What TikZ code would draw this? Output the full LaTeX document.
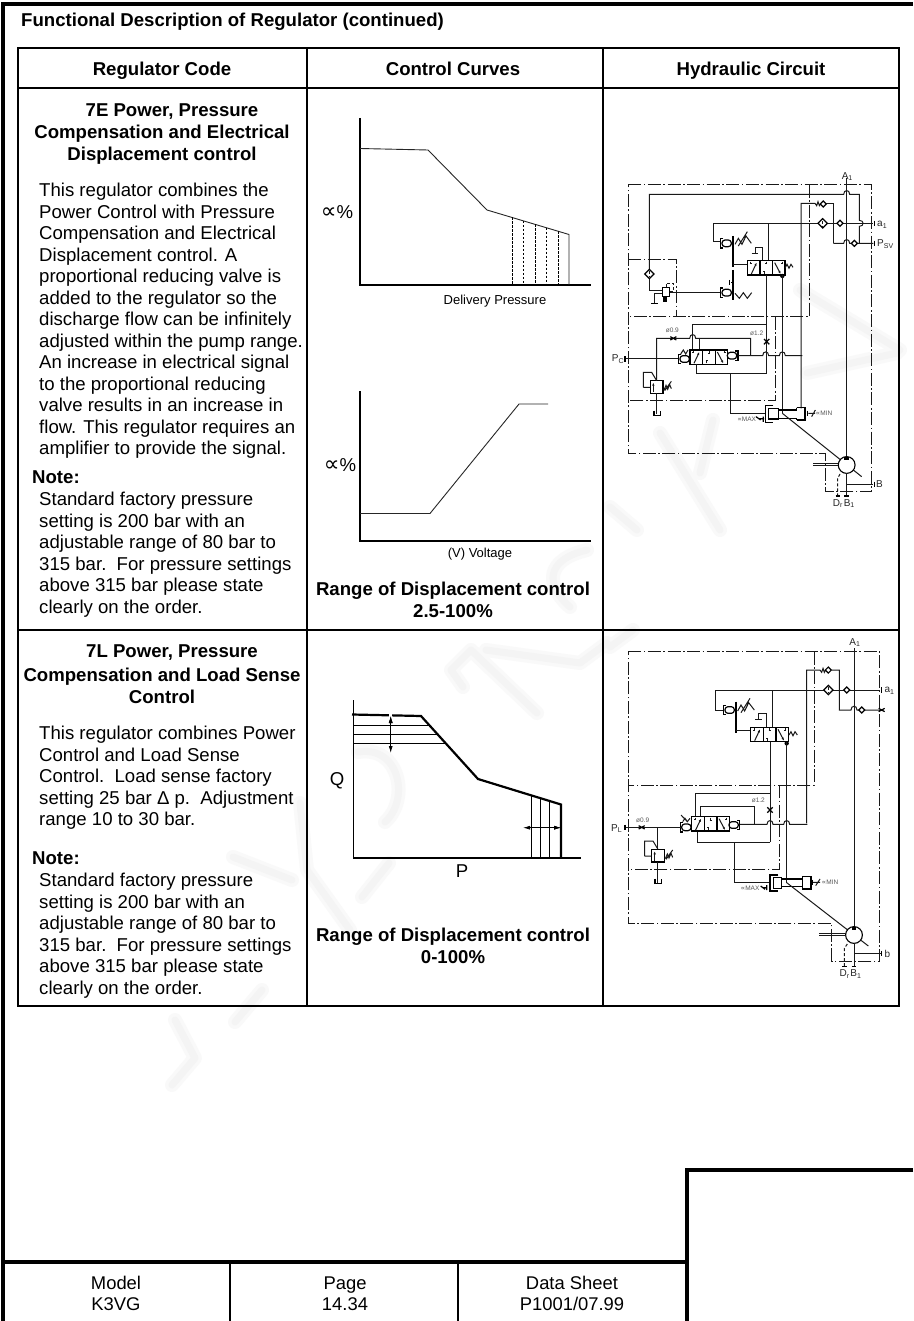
\documentclass[tikz,border=0pt]{standalone}
\usepackage{fontspec}
\setmainfont{Liberation Sans}
\newfontfamily\symf{DejaVu Sans}
\usetikzlibrary{arrows.meta}
\newcommand{\fs}[1]{\fontsize{#1}{#1}\selectfont}
\newcommand{\hh}[2]{-- ({#1-9},#2) .. controls ({#1-9},{#2-15}) and ({#1+9},{#2-15}) .. ({#1+9},#2)}
\newcommand{\hv}[2]{-- (#1,{#2-9}) .. controls ({#1+15},{#2-9}) and ({#1+15},{#2+9}) .. (#1,{#2+9})}
\newcommand{\pct}{{\symf\fs{22}∝}\%}
\tikzset{
  frameline/.style={line width=3.6pt,black},
  tableline/.style={line width=1.8pt,black},
  axis/.style={line width=1.2pt,black},
  curve/.style={line width=.9pt,black!85},
  bold curve/.style={line width=2.2pt,black},
  hyd/.style={line width=1pt,black!90},
  hydt/.style={line width=1.2pt,black},
  ddot/.style={line width=1pt,black!90,dash pattern=on 13pt off 2.5pt on 1.6pt off 2.5pt},
  wm/.style={line width=14pt,black!2.5,line cap=round,line join=round},
  wmin/.style={line width=7pt,black!4.5,line cap=round,line join=round},
  txt/.style={inner sep=0pt,font=\fs{18.6}},
  para/.style={inner sep=0pt,anchor=north west,align=left,font=\fontsize{18.6}{21.5}\selectfont},
  head/.style={inner sep=0pt,align=center,font=\fontsize{18.6}{21.5}\selectfont\bfseries},
  headb/.style={head,anchor=base},
  note/.style={inner sep=0pt,anchor=base west,font=\fs{18.6}\bfseries},
  foot/.style={inner sep=0pt,align=center,font=\fontsize{18.4}{21.2}\selectfont},
  small/.style={inner sep=0pt,font=\fs{13}},
  lab/.style={inner sep=0pt,font=\fs{10},black!85},
  tiny lab/.style={inner sep=0pt,font=\fs{6.5},black!65},
  chkv/.pic={\draw[hydt,fill=white] (-9,0)--(0,-9)--(9,0)--(0,9)--cycle;},
  shuttle/.pic={\draw[hydt,fill=white] (-14,0)--(0,-14)--(14,0)--(0,14)--cycle; \draw[hyd,densely dashed] (0,-8)--(0,8);},
  orif/.pic={\draw[hydt] (-8,-8)--(8,8) (-8,8)--(8,-8);},
  orifh/.pic={\draw[hydt] (-9,-5)--(9,5) (-9,5)--(9,-5);},
  tick/.pic={\draw[hydt] (0,-8)--(0,8);},
  tanksym/.pic={\draw[hydt] (-10,-14)--(-10,0)--(10,0)--(10,-14);},
  ground/.pic={\draw[hydt] (-10,0)--(10,0);},
  act/.pic={\draw[hydt] (4,-14)--(-4,-14)--(-4,14)--(4,14); \draw[hydt,rounded corners=3pt] (0,-10)--(28,-10)--(28,10)--(0,10)--cycle;},
  actr/.pic={\draw[hydt] (-4,-14)--(4,-14)--(4,14)--(-4,14); \draw[hydt,rounded corners=3pt] (0,-10)--(-28,-10)--(-28,10)--(0,10)--cycle;},
  valve/.pic={
    \draw[line width=1.5pt,black,fill=white] (0,0) rectangle (113,43);
    \draw[line width=1.2pt] (38,0)--(38,43) (76,0)--(76,43);
    \draw[hyd,-{Latex[length=3pt,width=2.5pt]}] (12,40)--(28,6);
    \draw[hyd] (10,3)--(10,9) (7,9)--(13,9);
    \draw[hyd] (57,3)--(57,10) (54,10)--(60,10) (50,40)--(50,33) (47,33)--(53,33);
    \draw[hyd,-{Latex[length=3pt,width=2.5pt]}] (82,6)--(100,40);
    \draw[hyd] (104,3)--(104,9) (101,9)--(107,9);},
  pump/.pic={\draw[line width=1.1pt,fill=white] (0,0) circle[radius=8.4pt];
    \fill (-7,-14)--(7,-14)--(7,-24)--(-7,-24)--cycle;},
  relief/.pic={\draw[line width=1.5pt,fill=white] (-19,0) rectangle (19,38);
    \draw[hyd,-{Latex[length=3pt,width=2.5pt]}] (-10,34)--(-10,6);
    \draw[hyd] (-40,20)--(-40,-25)--(-15,-25)--(0,0) (-40,20)--(-19,20);
    \draw[hyd] (22,28)--(28,14)--(33,26)--(39,12)--(44,24) (24,30)--(44,2);}
}
\begin{document}
\begin{tikzpicture}[x=1pt,y=-1pt]
\useasboundingbox (0,0) rectangle (913,1321);
\fill[white] (0,0) rectangle (913,1321);
% watermark
\foreach \s in {wm,wmin}{
 \draw[\s] (175,1020)--(195,1058)--(172,1085);
 \draw[\s] (262,990)--(235,1022);
 \draw[\s] (358,752) .. controls (400,745) and (410,800) .. (385,822);
 \draw[\s] (463,687)--(451,670)--(471,650)--(537,713);
 \draw[\s] (607,643)--(580,663)--(486,650);
 \draw[\s] (300,803)--(307,870)--(350,930);
 \draw[\s] (233,857)--(292,880);
 \draw[\s] (389,863)--(362,897);
 \draw[\s] (897,353)--(807,373);
 \draw[\s] (713,420)--(700,473);
 \draw[\s] (660,433)--(720,530);
 \draw[\s] (610,507)--(637,530);
 \draw[\s] (800,290)--(900,350);
 \draw[\s] (587,550) .. controls (545,560) and (545,585) .. (570,607);
 \draw[\s] (633,630)--(610,647);
}
% frame
\draw[frameline] (3,1321)--(3,4)--(913,4);
\draw[frameline] (1,1262)--(687,1262);
\draw[frameline] (913,1170)--(687,1170)--(687,1321);
\draw[line width=2.6pt] (230,1262)--(230,1321) (458,1262)--(458,1321);
\node[note] (title) at (21,26.5) {Functional Description of Regulator (continued)};
% table
\draw[tableline] (18,48) rectangle (899,1006);
\draw[tableline] (307,48)--(307,1006) (603,48)--(603,1006);
\draw[tableline] (18,88)--(899,88) (18,630)--(899,630);
\node[headb] (h1) at (162,75.5) {Regulator Code};
\node[headb] (h2) at (453,75.5) {Control Curves};
\node[headb] (h3) at (751,75.5) {Hydraulic Circuit};
% column 1 row 1
\node[headb] (t1a) at (172,116.5) {7E Power, Pressure};
\node[head] (t1b) at (162,144.5) {Compensation and Electrical\\Displacement control};
\node[para] (p1) at (39,183) {This regulator combines the\\Power Control with Pressure\\Compensation and Electrical\\Displacement control.  A\\proportional reducing valve is\\added to the regulator so the\\discharge flow can be infinitely\\adjusted within the pump range.\\An increase in electrical signal\\to the proportional reducing\\valve results in an increase in\\flow. This regulator requires an\\amplifier to provide the signal.};
\node[note] (n1) at (32,483.5) {Note:};
\node[para] (q1) at (39,492) {Standard factory pressure\\setting is 200 bar with an\\adjustable range of 80 bar to\\315 bar.\ \ For pressure settings\\above 315 bar please state\\clearly on the order.};
% column 1 row 2
\node[headb] (t2a) at (172,657.5) {7L Power, Pressure};
\node[head] (t2b) at (162,686) {Compensation and Load Sense\\Control};
\node[para] (p2) at (39,726) {This regulator combines Power\\Control and Load Sense\\Control.\ \ Load sense factory\\setting 25 bar Δ p.\ \ Adjustment\\range 10 to 30 bar.};
\node[note] (n2) at (32,864.5) {Note:};
\node[para] (q2) at (39,873) {Standard factory pressure\\setting is 200 bar with an\\adjustable range of 80 bar to\\315 bar.\ \ For pressure settings\\above 315 bar please state\\clearly on the order.};
% chart 1
\draw[axis] (360,118)--(360,285)--(591,285);
\draw[curve] (360,148.5)--(428,150)--(487,210)--(569,234.5)--(569,285);
\foreach \px/\py in {512/217.5,523/220.8,535/224.3,546/227.6,558/231.2}
  \draw[line width=.8pt,black,dash pattern=on 2.5pt off 1.5pt] (\px,\py)--(\px,285);
\node[txt] (l1) at (337,212) {\pct};
\node[small] (c1) at (495,301) {Delivery Pressure};
% chart 2
\draw[axis] (360,391)--(360,541)--(591,541);
\draw[curve] (360,513.5)--(430,513.5)--(519,404)--(548,404);
\node[txt] (l2) at (340,465) {\pct};
\node[small] (c2) at (480,554) {(V) Voltage};
\node[head] (r1) at (453,600) {Range of Displacement control\\2.5-100\%};
% chart 3
\draw[axis] (353.7,700)--(353.7,858)--(581,858);
\draw[bold curve] (352,714.5)--(421,716)--(478,779)--(561,804.5)--(561,858);
\draw[line width=1pt] (354,725.7)--(430,725.7) (354,734.7)--(438,734.7) (354,743.7)--(447,743.7);
\draw[line width=1pt] (531,795)--(531,858) (540,798)--(540,858) (549,801)--(549,858);
\draw[white,line width=2.5pt] (390.7,713)--(390.7,718);
\draw[line width=.8pt,{Latex[length=7pt,width=4pt]}-{Latex[length=7pt,width=4pt]}] (390.7,716)--(390.7,753);
\draw[line width=.8pt,-{Latex[length=7pt,width=4pt]}] (390.7,735)--(390.7,716);
\draw[line width=.8pt,{Latex[length=7pt,width=4pt]}-{Latex[length=7pt,width=4pt]}] (523,827.7)--(561,827.7);
\draw[line width=.8pt,-{Latex[length=7pt,width=4pt]}] (545,827.7)--(561,827.7);
\node[txt] (q) at (337,781) {Q};
\node[txt] (pp) at (462,871) {P};
\node[head] (r2) at (453,946) {Range of Displacement control\\0-100\%};
% circuit 1
\begin{scope}[shift={(610,150)},x=.33333pt,y=-.33333pt]
 \draw[ddot] (55,105)--(785,105)--(785,1025)--(645,1025)--(645,912)--(55,912)--cycle;
 \draw[ddot] (597,105)--(597,500)--(55,500);
 \draw[ddot] (55,328)--(198,328)--(198,500);
 \draw[ddot] (495,500)--(495,752)--(55,752);
 \draw[hyd] (710,85)--(710,930);
 \draw[hyd] (118,360)--(118,133) \hh{710}{133} --(748,133) \hv{748}{220} --(748,280);
 \draw[hyd] (670,280) \hh{710}{280} --(790,280);
 \draw[hyd] (310,275)--(310,220)--(790,220);
 \draw[hyd] (118,372)--(118,422)--(160,422);
 \draw[hyd] (160,432)--(133,432)--(133,460);
 \pic at (133,460) {ground};
 \draw[hyd] (178,428)--(332,428);
 \pic at (118,372) {shuttle};
 \draw[hydt,fill=white] (158,412) rectangle (178,440);
 \fill (160,440) rectangle (172,455);
 \draw[hyd,densely dashed] (168,412)--(168,400)--(190,400)--(190,425)--(178,425);
 \draw[hyd] (310,275)--(332,275);
 \pic at (336,280) {act};
 \pic at (336,428) {act};
 \draw[line width=2pt] (370,258)--(370,350) (370,360)--(370,450);
 \draw[hyd] (375,283)--(385,265)--(396,283)--(408,258)--(424,280) (385,288)--(412,245);
 \draw[hyd] (375,430)--(388,445)--(400,428)--(412,445)--(425,428);
 \draw[hydt] (363,397)--(370,397) (358,390)--(358,405);
 \draw[hyd] (370,345)--(412,345);
 \draw[hyd] (476,220)--(476,332);
 \draw[hyd] (458,332)--(458,292)--(437,292)--(437,310) (425,310)--(445,310);
 \pic at (412,332) {valve};
 \draw[hyd] (525,355)--(531,343)--(537,355)--(543,343)--(549,352);
 \fill (517,378) circle[radius=2.2pt];
 \draw[hyd] (470,375)--(470,670);
 \draw[hyd] (248,600)--(248,525)--(470,525);
 \draw[hyd] (517,375)--(517,790);
 \draw[hyd] (573,775)--(573,160)--(615,160)--(620,167)--(624,155)--(628,167)--(633,160);
 \draw[hyd] (648,160)--(670,160)--(670,280);
 \pic at (640,162) {chkv};
 \pic at (638,220) {shuttle};
 \pic at (690,220) {chkv};
 \pic at (733,280) {chkv};
 \pic at (793,220) {tick};
 \pic at (793,280) {tick};
 \draw[hyd] (140,690)--(140,565)--(233,565) \hh{248}{565} --(422,565)--(422,617);
 \draw[hyd] (267,565)--(267,600);
 \pic at (190,565) {orifh};
 \pic at (470,575) {orif};
 \draw[hyd] (45,627)--(205,627);
 \pic at (45,627) {tick};
 \pic at (240,600) {valve};
 \pic at (210,627) {act};
 \draw[hyd] (212,612)--(220,600)--(227,612)--(234,600);
 \pic at (380,617) {actr};
 \draw[hyd] (385,617) \hh{467}{617} \hh{517}{617} --(577,617);
 \draw[hyd] (258,643)--(258,672)--(470,672);
 \draw[hyd] (362,672)--(362,792)--(465,792);
 \pic at (140,692) {relief};
 \draw[hyd] (140,730)--(140,792);
 \pic at (142,796) {tanksym};
 % actuator
 \draw[hydt] (490,767)--(467,767)--(467,817)--(490,817);
 \draw[line width=1.5pt] (475,775)--(505,775)--(505,807)--(475,807)--cycle;
 \draw[hydt] (505,780)--(562,780) (505,805)--(562,805);
 \draw[hydt] (560,773)--(585,773)--(585,810)--(560,810) (560,773)--(560,780) (560,805)--(560,810);
 \draw[hyd] (595,790)--(615,790) (605,800)--(616,780);
 \pic at (593,790) {tick};
 \node[tiny lab] (mn1) at (642,790) {{\symf ∝}MIN};
 \node[tiny lab] (mx1) at (410,808) {{\symf ∝}MAX};
 \draw[hydt] (438,800)--(452,810) (460,800)--(460,816) (448,806)--(462,806);
 \draw[hyd] (517,790)--(755,980);
 \pic at (710,945) {pump};
 \draw[hyd] (610,941)--(685,941) (610,948)--(685,948);
 \draw[hyd] (710,970)--(710,1035) (710,1003)--(790,1003);
 \pic at (793,1003) {tick};
 \draw[hyd,densely dashed] (690,972)--(683,985)--(683,1035);
 \draw[hydt] (677,1038)--(690,1038) (703,1038)--(717,1038);
 \node[lab] (a1) at (712,80) {A\textsubscript{1}};
 \node[lab,anchor=west] (a2) at (801,224) {a\textsubscript{1}};
 \node[lab,anchor=west] (ps) at (801,283) {P\textsubscript{SV}};
 \node[lab] (pc) at (24,627) {P\textsubscript{C}};
 \node[lab] (bb) at (808,1003) {B};
 \node[lab] (dr) at (684,1061) {D\textsubscript{r}};
 \node[lab] (b1) at (718,1061) {B\textsubscript{1}};
 \node[tiny lab] (o9) at (187,541) {ø0.9};
 \node[tiny lab] (o12) at (440,550) {ø1.2};
\end{scope}
% circuit 2
\begin{scope}[shift={(610,630)},x=.33333pt,y=-.33333pt]
 \draw[ddot] (55,65)--(808,65)--(808,993)--(665,993)--(665,880)--(55,880)--cycle;
 \draw[ddot] (613,65)--(613,465)--(55,465);
 \draw[ddot] (507,465)--(507,718)--(55,718);
 \draw[hyd] (732,55)--(732,890);
 \draw[hyd] (340,240)--(317,240)--(317,180)--(810,180);
 \pic at (345,240) {act};
 \draw[line width=2pt] (378,215)--(378,310);
 \draw[hyd] (383,243)--(393,225)--(404,243)--(416,218)--(433,240) (393,248)--(420,205);
 \draw[hyd] (378,300)--(422,300);
 \draw[hyd] (488,180)--(488,292);
 \draw[hyd] (468,292)--(468,250)--(445,250)--(445,268) (435,268)--(455,268);
 \pic at (422,292) {valve};
 \draw[hyd] (537,315)--(543,305)--(549,317)--(555,305)--(562,315);
 \fill (530,340) circle[radius=2.2pt];
 \draw[hyd] (480,337)--(480,637);
 \draw[hyd] (255,560)--(255,490)--(480,490);
 \draw[hyd] (530,337)--(530,760);
 \draw[hyd] (590,580)--(590,120)--(630,120)--(635,127)--(639,115)--(643,127)--(647,120);
 \draw[hyd] (665,120)--(688,120)--(688,240) \hh{732}{240} --(810,240);
 \pic at (655,120) {chkv};
 \pic at (655,180) {shuttle};
 \pic at (710,180) {chkv};
 \pic at (755,240) {chkv};
 \pic at (815,180) {tick};
 \pic at (815,240) {orifh};
 \pic at (480,540) {orif};
 \draw[hyd] (272,560)--(272,528)--(433,528)--(433,583);
 \pic at (245,560) {valve};
 \pic at (215,592) {act};
 \draw[hyd] (218,575)--(225,565)--(232,575)--(240,565) (213,555)--(232,575);
 \pic at (385,585) {actr};
 \draw[hyd] (389,583) \hh{480}{583} \hh{530}{583} --(592,583);
 \draw[hyd] (45,592)--(212,592);
 \pic at (45,592) {tick};
 \pic at (95,592) {orifh};
 \draw[hyd] (143,592)--(143,658);
 \pic at (144,658) {relief};
 \draw[hyd] (143,695)--(143,760);
 \pic at (145,760) {tanksym};
 \draw[hyd] (263,605)--(263,637)--(480,637);
 \draw[hyd] (372,637)--(372,758)--(480,758);
 \draw[hydt] (505,735)--(480,735)--(480,783)--(505,783);
 \draw[line width=1.5pt] (490,742)--(515,742)--(515,775)--(490,775)--cycle;
 \draw[hydt] (515,747)--(577,747) (515,770)--(577,770);
 \draw[hydt] (577,740)--(603,740)--(603,777)--(577,777)--cycle;
 \draw[hyd] (607,757)--(630,757) (617,767)--(630,747);
 \pic at (607,757) {tick};
 \node[tiny lab] (mn2) at (660,757) {{\symf ∝}MIN};
 \node[tiny lab] (mx2) at (420,775) {{\symf ∝}MAX};
 \draw[hydt] (452,768)--(465,778) (470,765)--(470,780) (460,773)--(472,773);
 \draw[hyd] (530,758)--(775,948);
 \pic at (732,915) {pump};
 \draw[hyd] (628,910)--(707,910) (628,917)--(707,917);
 \draw[hyd] (732,940)--(732,1008) (732,970)--(815,970);
 \pic at (815,970) {tick};
 \draw[hyd,densely dashed] (712,942)--(703,955)--(703,1008);
 \draw[hydt] (697,1010)--(710,1010) (725,1010)--(738,1010);
 \node[lab] (a3) at (735,38) {A\textsubscript{1}};
 \node[lab,anchor=west] (a4) at (823,183) {a\textsubscript{1}};
 \node[lab] (pl) at (20,595) {P\textsubscript{L}};
 \node[lab,anchor=west] (bs) at (823,972) {b};
 \node[lab] (dr2) at (704,1032) {D\textsubscript{r}};
 \node[lab] (b2) at (738,1032) {B\textsubscript{1}};
 \node[tiny lab] (o92) at (98,572) {ø0.9};
 \node[tiny lab] (o122) at (445,512) {ø1.2};
\end{scope}
% footer
\node[foot] (m) at (116,1293.5) {Model\\K3VG};
\node[foot] (pg) at (345,1293.5) {Page\\14.34};
\node[foot] (ds) at (572,1293.5) {Data Sheet\\P1001/07.99};
\end{tikzpicture}
\end{document}
